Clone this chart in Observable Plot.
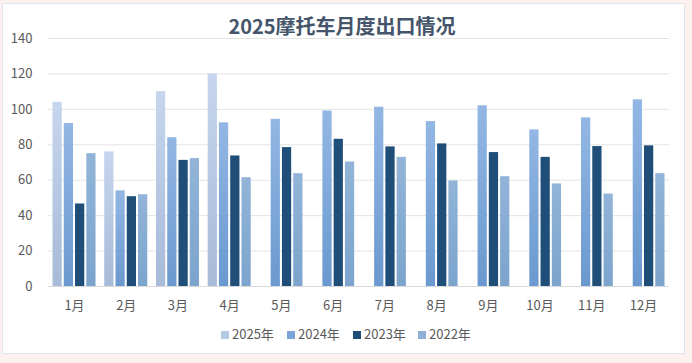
<!DOCTYPE html>
<html>
<head>
<meta charset="utf-8">
<script src="https://cdn.jsdelivr.net/npm/d3@7"></script>
<script src="https://cdn.jsdelivr.net/npm/@observablehq/plot@0.6"></script>
<style>
  html, body { margin: 0; padding: 0; }
  body { width: 692px; height: 363px; background: #fcf1ee; position: relative; overflow: hidden;
         font-family: "Noto Sans CJK SC", "Noto Sans", sans-serif; }
  #card { position: absolute; left: 2px; top: 3px; width: 683px; height: 351px; background: #fff;
          border: 1px solid #dfe5ec; box-sizing: border-box; }
  #chart { position: absolute; left: 0; top: 0; }
  #title { position: absolute; left: 0; width: 684px; top: 13px; text-align: center;
           font-size: 20px; font-weight: bold; color: #44546a; line-height: 26px; }
  #legend { position: absolute; top: 325px; left: 0; width: 692px; height: 20px; }
  .li { position: absolute; top: 0; font-size: 13px; color: #595959; line-height: 18px; white-space: nowrap; }
  .sw { display: inline-block; width: 8px; height: 8px; margin-right: 3px; vertical-align: 0px; }
</style>
</head>
<body>
<div id="card"></div>
<div id="chart"></div>
<div id="title"></div>
<div id="legend"></div>
<script>
const title = "2025摩托车月度出口情况";
const months = ["1月","2月","3月","4月","5月","6月","7月","8月","9月","10月","11月","12月"];
const years = ["2025年","2024年","2023年","2022年"];
const yTicks = [0, 20, 40, 60, 80, 100, 120, 140];
const v2025 = [104, 76, 110, 120, null, null, null, null, null, null, null, null];
const v2024 = [92, 54, 84, 92.4, 94.4, 99.1, 101.2, 93.1, 102, 88.4, 95.2, 105.4];
const v2023 = [46.6, 50.7, 71.2, 73.7, 78.4, 83.1, 78.8, 80.5, 75.6, 72.9, 79, 79.4];
const v2022 = [75, 51.8, 72.2, 61.4, 63.7, 70.3, 72.9, 59.6, 62, 57.9, 52.2, 63.7];
const yearColors = [["#c6d6ee", "#a7bad7"], ["#93b7e4", "#6a99cf"], ["#1f4e79", "#1f4e79"], ["#92b4d8", "#7ca4cd"]];
const swatchColors = ["#b4c7e7", "#7ba5d9", "#1f4e79", "#8db0d6"];

const series = [v2025, v2024, v2023, v2022];
const ids = years.map((y, j) => "grad" + j);

const W = 692, ML = 48, MR = 23;
const padIn = 0.168, padOut = 0.087, barPad = 0.18;
const step = (W - ML - MR) / (months.length - padIn + 2 * padOut);
const band = step * (1 - padIn);
const subStep = band / (years.length - barPad);
const subBand = subStep * (1 - barPad);

const defs = () => {
  const g = d3.create("svg:defs");
  yearColors.forEach((c, j) => {
    const lg = g.append("linearGradient").attr("id", ids[j]).attr("x1", 0).attr("y1", 0).attr("x2", 0).attr("y2", 1);
    lg.append("stop").attr("offset", "0%").attr("stop-color", c[0]);
    lg.append("stop").attr("offset", "100%").attr("stop-color", c[1]);
  });
  return g.node();
};

const barMarks = years.map((y, j) => {
  const rows = months.map((m, i) => ({month: m, year: y, value: series[j][i]})).filter(d => d.value != null);
  const left = j * subStep;
  return Plot.barY(rows, {
    x: "month", y: "value", fill: `url(#${ids[j]})`,
    insetLeft: left, insetRight: band - left - subBand
  });
});

const chart = Plot.plot({
  width: W,
  height: 363,
  marginLeft: ML,
  marginRight: MR,
  marginTop: 38,
  marginBottom: 77,
  style: {background: "transparent", fontFamily: "'Noto Sans CJK SC', 'Noto Sans', sans-serif", fontSize: "13px", color: "#595959", overflow: "visible"},
  x: {domain: months, paddingInner: padIn, paddingOuter: padOut, round: false, label: null},
  y: {domain: [0, 140], ticks: yTicks, label: null},
  marks: [
    defs,
    Plot.gridY(yTicks.filter(t => t > 0), {stroke: "#e4e4e4", strokeOpacity: 1, strokeWidth: 1}),
    Plot.axisY(yTicks, {tickSize: 0, tickPadding: 16, fontSize: 13, fill: "#595959", label: null}),
    ...barMarks,
    Plot.ruleY([0], {stroke: "#d9d9d9", strokeWidth: 1}),
    Plot.axisX({tickSize: 0, tickPadding: 14, fontSize: 13, fill: "#595959", label: null})
  ]
});
document.getElementById("chart").appendChild(chart);
document.getElementById("title").textContent = title;

const legendX = [221, 287, 353, 418];
const legend = document.getElementById("legend");
years.forEach((y, j) => {
  const d = document.createElement("div");
  d.className = "li";
  d.style.left = legendX[j] + "px";
  const s = document.createElement("span");
  s.className = "sw";
  s.style.background = swatchColors[j];
  d.appendChild(s);
  d.appendChild(document.createTextNode(y));
  legend.appendChild(d);
});
</script>
</body>
</html>
